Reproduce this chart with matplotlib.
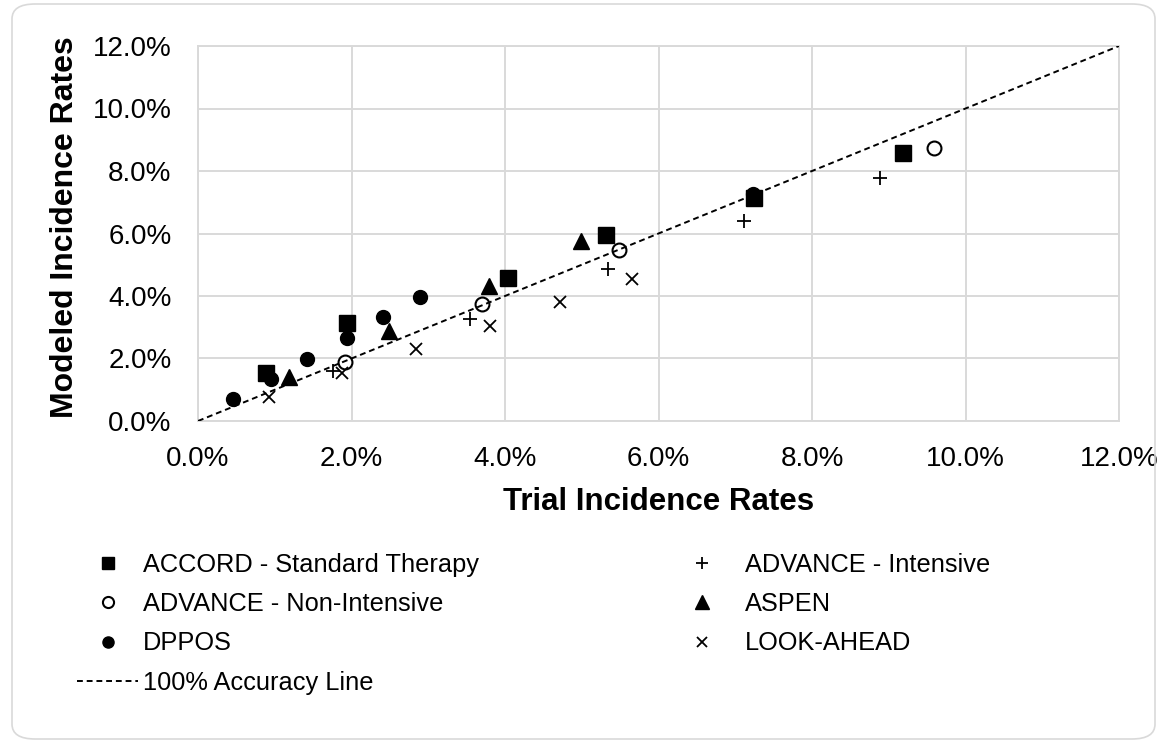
import matplotlib
matplotlib.use('Agg')
import matplotlib.pyplot as plt
from matplotlib.patches import FancyBboxPatch
from matplotlib.ticker import FuncFormatter, MultipleLocator

plt.rcParams['font.family'] = ['Liberation Sans', 'DejaVu Sans']

# ==================== data (percent) ====================
accord_x = [0.89, 1.94, 4.04, 5.32, 7.25, 9.19]
accord_y = [1.55, 3.13, 4.59, 5.95, 7.15, 8.57]

adv_int_x = [1.76, 3.54, 5.34, 7.11, 8.89]
adv_int_y = [1.61, 3.26, 4.85, 6.41, 7.77]

adv_non_x = [1.92, 3.70, 5.48, 9.59]
adv_non_y = [1.88, 3.73, 5.48, 8.73]

aspen_x = [1.19, 2.49, 3.79, 4.99]
aspen_y = [1.42, 2.88, 4.33, 5.77]

dppos_x = [0.46, 0.95, 1.42, 1.94, 2.41, 2.89, 7.23]
dppos_y = [0.69, 1.34, 1.99, 2.65, 3.32, 3.98, 7.25]

look_x = [0.92, 1.88, 2.84, 3.81, 4.72, 5.66]
look_y = [0.78, 1.53, 2.29, 3.04, 3.81, 4.55]

axis_max = 12.0
grid_c = '#d9d9d9'
W, H = 1159, 743

fig = plt.figure(figsize=(W / 100, H / 100), dpi=100)
ax = fig.add_axes([198 / W, 1 - 421 / H, 921 / W, 375 / H])

# outer chart border
fig.patches.append(FancyBboxPatch((12 / W, 4 / H), 1143 / W, 735 / H,
                                  boxstyle='round,pad=0,rounding_size=0.02',
                                  transform=fig.transFigure, facecolor='none',
                                  edgecolor=grid_c, linewidth=1.2))

ax.plot(accord_x, accord_y, 's', color='black', ms=11, ls='none',
        label='ACCORD - Standard Therapy', zorder=3)
ax.plot(adv_int_x, adv_int_y, '+', color='black', ms=10.5, mew=1.3, ls='none',
        label='ADVANCE - Intensive', zorder=3)
ax.plot(adv_non_x, adv_non_y, 'o', mfc='white', mec='black', mew=1.5, ms=10,
        ls='none', label='ADVANCE - Non-Intensive', zorder=3)
ax.plot(aspen_x, aspen_y, '^', color='black', ms=12, ls='none',
        label='ASPEN', zorder=3)
ax.plot(dppos_x, dppos_y, 'o', color='black', ms=10, ls='none',
        label='DPPOS', zorder=3)
ax.plot(look_x, look_y, 'x', color='black', ms=8.5, mew=1.3, ls='none',
        label='LOOK-AHEAD', zorder=3)
ax.plot([0, axis_max], [0, axis_max], color='black', lw=1.4,
        ls=(0, (3, 2)), label='100% Accuracy Line', zorder=4)

ax.set_xlim(0, axis_max)
ax.set_ylim(0, axis_max)
ax.xaxis.set_major_locator(MultipleLocator(2))
ax.yaxis.set_major_locator(MultipleLocator(2))
pct = FuncFormatter(lambda v, p: f'{v:.1f}%')
ax.xaxis.set_major_formatter(pct)
ax.yaxis.set_major_formatter(pct)
ax.tick_params(length=0, labelsize=20)
ax.tick_params(axis='x', pad=18)
ax.tick_params(axis='y', pad=19)
ax.grid(True, color=grid_c, lw=1.4)
ax.set_axisbelow(True)
for s in ax.spines.values():
    s.set_color(grid_c)
    s.set_linewidth(1.4)

ax.set_xlabel('Trial Incidence Rates', fontsize=22.5, fontweight='bold', labelpad=11)
ax.set_ylabel('Modeled Incidence Rates', fontsize=23, fontweight='bold', labelpad=9)
ax.yaxis.label.set_y(0.517)

# legend: two separate columns
h, l = ax.get_legend_handles_labels()
leg_kw = dict(loc='upper left', frameon=False, fontsize=18.3, borderpad=0,
              borderaxespad=0, handlelength=2.4, labelspacing=0.6,
              markerscale=0.8)
left_col = [0, 2, 4, 6]
right_col = [1, 3, 5]
fig.legend([h[i] for i in left_col], [l[i] for i in left_col],
           bbox_to_anchor=(77 / W, 1 - 553 / H), handletextpad=0.2, **leg_kw)
fig.legend([h[i] for i in right_col], [l[i] for i in right_col],
           bbox_to_anchor=(671 / W, 1 - 553 / H), handletextpad=0.5, **leg_kw)

fig.savefig('out.png', dpi=100)
